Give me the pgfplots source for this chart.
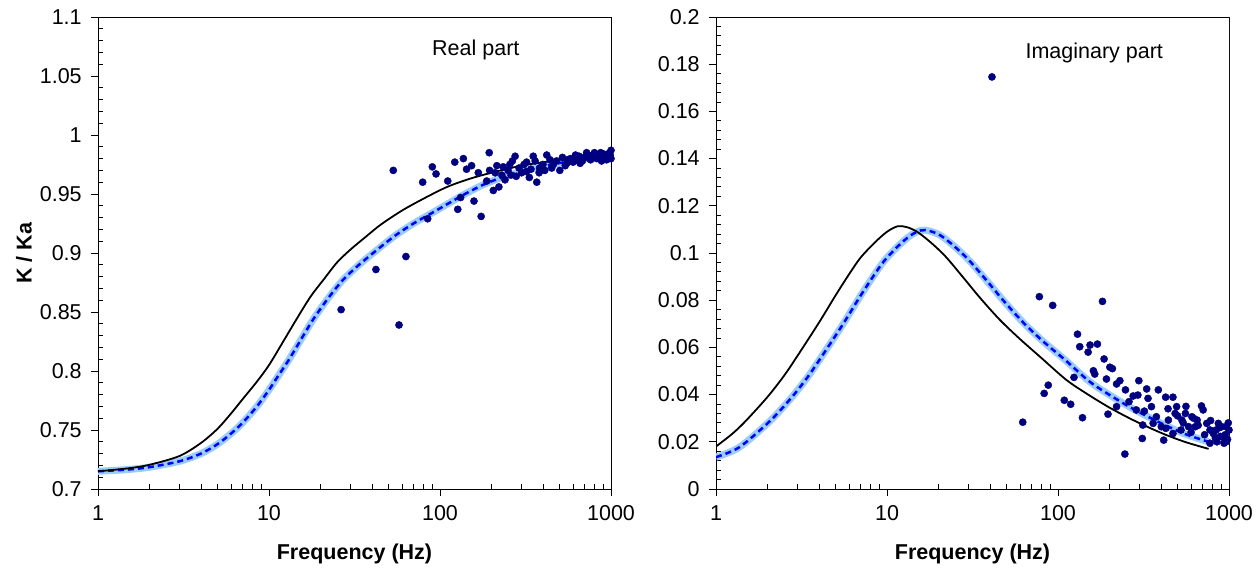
\documentclass[border=0pt]{standalone}
\usepackage{fontspec}
\setmainfont{Liberation Sans}
\usepackage{pgfplots}
\usepackage{pgfplotstable}
\pgfplotsset{compat=1.18}
\definecolor{navyd}{RGB}{0,0,128}
\definecolor{lblue}{RGB}{153,204,255}
\definecolor{dblue}{RGB}{0,0,255}

\pgfplotstableread{
f v
1 0.7150
1.5 0.7175
2 0.7205
3 0.728
4 0.739
5 0.751
6 0.764
7 0.776
8.5 0.791
10 0.805
12 0.824
14.5 0.844
17.5 0.863
21 0.878
25 0.892
30 0.903
37 0.914
45 0.924
60 0.936
80 0.946
110 0.956
150 0.963
200 0.968
300 0.974
450 0.978
650 0.982
780 0.984
}\realblack

\pgfplotstableread{
f v
1 0.715
1.5 0.7165
2 0.7185
3 0.7235
4 0.730
5 0.738
6 0.747
7 0.756
8.5 0.770
10 0.784
11.1 0.794
13 0.809
15 0.824
18 0.843
22 0.861
27 0.877
33 0.889
42.7 0.9025
55 0.915
70 0.925
90 0.934
109 0.941
140 0.950
180 0.958
230 0.964
300 0.969
450 0.975
650 0.979
780 0.981
}\realblue

\pgfplotstableread{
f v
26.4 0.852
42.2 0.886
57.6 0.839
63.2 0.897
53.3 0.970
79.2 0.960
84.7 0.929
90.2 0.973
94.8 0.967
111 0.961
122 0.977
127 0.937
132 0.947
137 0.980
143 0.971
153 0.974
158 0.944
167.5 0.968
174 0.931
187.6 0.961
194 0.985
205 0.953
221 0.956
234 0.973
240 0.962
256 0.975
275 0.982
279 0.965
321 0.977
333 0.964
351 0.982
368 0.960
382 0.972
421 0.983
460 0.975
502 0.970
551 0.976
629 0.979
720 0.985
825 0.980
943 0.979
1000 0.987
210 0.968
250 0.970
265 0.978
290 0.972
300 0.968
310 0.975
340 0.971
360 0.978
400 0.975
410 0.970
440 0.979
480 0.978
520 0.981
540 0.974
580 0.980
600 0.977
650 0.982
680 0.978
700 0.981
750 0.980
780 0.983
800 0.985
850 0.983
880 0.978
900 0.984
920 0.982
960 0.984
980 0.981
1000 0.980
990 0.983
450 0.972
380 0.968
320 0.969
230 0.966
195 0.970
215 0.974
260 0.966
555 0.979
620 0.983
660 0.976
730 0.983
760 0.979
870 0.985
}\realdata

\pgfplotstableread{
f v
1 0.0180
1.25 0.0235
1.5 0.0290
2 0.0390
2.5 0.0480
3 0.0565
4 0.0705
5 0.0820
6 0.0910
7 0.0980
8.5 0.1045
10 0.1090
11.5 0.1113
13 0.1110
15 0.1090
18 0.1045
22 0.0985
28 0.0895
35 0.0810
45.8 0.0716
60 0.0635
80 0.0555
112 0.0462
150 0.0400
200 0.0345
275 0.0292
400 0.0238
550 0.0200
760 0.0170
}\imagblack

\pgfplotstableread{
f v
1 0.0135
1.37 0.0177
2.055 0.0286
2.74 0.0384
3.425 0.0473
4.11 0.0557
5.48 0.0694
6.85 0.0808
8.22 0.0896
9.59 0.0965
11.6 0.1029
13.7 0.1074
15.8 0.1096
17.8 0.1093
20.6 0.1074
24.7 0.1029
30.1 0.0970
38.4 0.0882
48 0.0798
62.7 0.0705
82 0.0625
110 0.0547
153 0.0455
205 0.0394
274 0.0340
377 0.0288
548 0.0234
760 0.0200
}\imagblue

\pgfplotstableread{
f v
41.1 0.1746
77.8 0.0815
93.1 0.0778
182 0.0795
130 0.0656
134 0.0603
154 0.061
170 0.0614
150 0.058
186 0.0551
201 0.0516
208 0.051
161 0.0501
164 0.0487
192 0.0466
230 0.0459
220 0.0445
124 0.0473
87.7 0.044
83 0.0405
108.8 0.0376
118.6 0.0359
62.2 0.0283
139 0.0302
196 0.0317
220 0.0349
246 0.0148
248 0.042
275 0.0394
293 0.0398
297 0.0459
330 0.0424
386 0.042
426 0.0389
470 0.0389
336 0.0384
352 0.0349
287 0.0335
313 0.0271
311 0.0214
415 0.0207
360 0.0278
376 0.0306
402 0.0264
427 0.0257
442 0.0292
484 0.032
494 0.0349
530 0.0292
556 0.032
607 0.0306
651 0.0292
690 0.0352
706 0.0335
741 0.0278
774 0.025
810 0.0235
774 0.0194
866 0.0278
907 0.0264
935 0.0194
962 0.0264
950 0.023
890 0.0223
832 0.0216
635 0.0264
580 0.0264
524 0.025
470 0.0235
540 0.028
600 0.024
660 0.027
720 0.023
780 0.029
840 0.025
880 0.026
920 0.022
980 0.021
1000 0.025
990 0.028
960 0.02
850 0.02
260 0.037
320 0.033
440 0.034
500 0.031
560 0.035
620 0.030
}\imagdata

\begin{document}
\fontsize{21.5}{25}\selectfont
\begin{tikzpicture}
\path[use as bounding box] (0pt,0pt) rectangle (1260pt,577pt);

\begin{axis}[
  xmode=log, xmin=1, xmax=1000,
  scale only axis, width=513pt, height=472pt,
  at={(98pt,88pt)}, anchor=south west,
  tick align=outside, xtick pos=bottom, ytick pos=left,
  major tick length=7pt, minor tick length=5pt,
  minor x tick style={yshift=5pt}, minor y tick style={xshift=5pt},
  xtick={1,10,100,1000}, xticklabels={1,10,100,1000},
  minor xtick={2,3,4,5,6,7,8,9,20,30,40,50,60,70,80,90,200,300,400,500,600,700,800,900},
  minor y tick num=4,
  axis line style={black, line width=0.9pt},
  tick style={black, line width=0.9pt},
  xlabel={\textbf{Frequency (Hz)}},
  every axis x label/.style={at={(rel axis cs:0.5,0)}, anchor=center, yshift=-65pt},
  yticklabel style={xshift=-2pt},
  xticklabel style={yshift=-2pt},
  ymin=0.7, ymax=1.1,
  ytick={0.7,0.75,0.8,0.85,0.9,0.95,1,1.05,1.1},
  yticklabels={0.7,0.75,0.8,0.85,0.9,0.95,1,1.05,1.1},
  ylabel={\textbf{K / Ka}},
  every axis y label/.style={at={([xshift=-74pt]rel axis cs:0,0.5)}, rotate=90, anchor=center},
]
\addplot[lblue, line width=7pt, smooth] table[x=f,y=v] {\realblue};
\addplot[dblue, line width=2.5pt, dash pattern=on 6pt off 4pt, smooth] table[x=f,y=v] {\realblue};
\addplot[black, line width=1.8pt, smooth] table[x=f,y=v] {\realblack};
\addplot[only marks, mark=*, mark size=3.6pt, navyd, mark options={fill=navyd, draw=navyd}] table[x=f,y=v] {\realdata};
\node at (axis cs:162,1.072) {Real part};
\end{axis}

\begin{axis}[
  xmode=log, xmin=1, xmax=1000,
  scale only axis, width=513pt, height=472pt,
  at={(716pt,88pt)}, anchor=south west,
  tick align=outside, xtick pos=bottom, ytick pos=left,
  major tick length=7pt, minor tick length=5pt,
  minor x tick style={yshift=5pt}, minor y tick style={xshift=5pt},
  xtick={1,10,100,1000}, xticklabels={1,10,100,1000},
  minor xtick={2,3,4,5,6,7,8,9,20,30,40,50,60,70,80,90,200,300,400,500,600,700,800,900},
  minor y tick num=4,
  axis line style={black, line width=0.9pt},
  tick style={black, line width=0.9pt},
  xlabel={\textbf{Frequency (Hz)}},
  every axis x label/.style={at={(rel axis cs:0.5,0)}, anchor=center, yshift=-65pt},
  yticklabel style={xshift=-2pt},
  xticklabel style={yshift=-2pt},
  ymin=0, ymax=0.2,
  ytick={0,0.02,0.04,0.06,0.08,0.1,0.12,0.14,0.16,0.18,0.2},
  yticklabels={0,0.02,0.04,0.06,0.08,0.1,0.12,0.14,0.16,0.18,0.2},
]
\addplot[lblue, line width=7pt, smooth] table[x=f,y=v] {\imagblue};
\addplot[dblue, line width=2.5pt, dash pattern=on 6pt off 4pt, smooth] table[x=f,y=v] {\imagblue};
\addplot[black, line width=1.8pt, smooth] table[x=f,y=v] {\imagblack};
\addplot[only marks, mark=*, mark size=3.6pt, navyd, mark options={fill=navyd, draw=navyd}] table[x=f,y=v] {\imagdata};
\node at (axis cs:163,0.1847) {Imaginary part};
\draw[gray, line width=0.9pt] (rel axis cs:1,0) -- (rel axis cs:1,1);
\end{axis}
\end{tikzpicture}
\end{document}
